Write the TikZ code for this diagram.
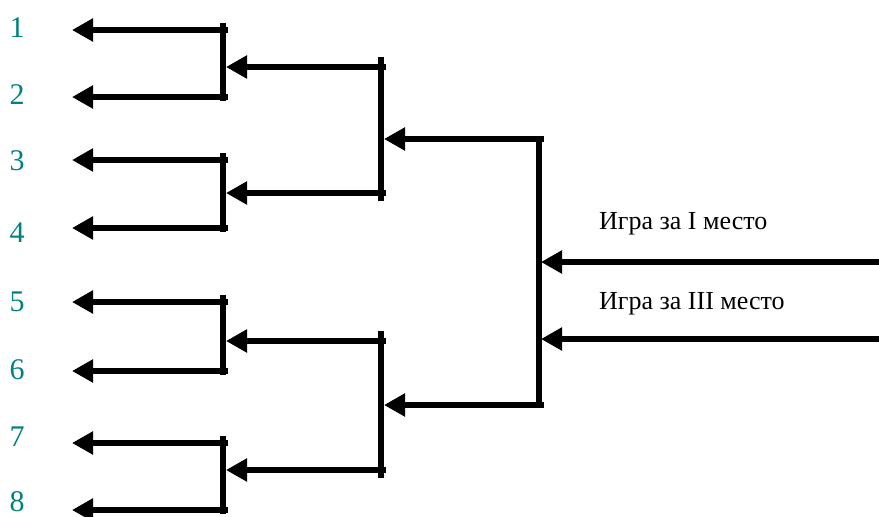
\documentclass[tikz,border=0pt]{standalone}
\usepackage{fontspec}
\setmainfont{Liberation Serif}
\usetikzlibrary{arrows.meta}
\definecolor{numteal}{RGB}{0,128,128}
\begin{document}
\begin{tikzpicture}[x=1pt,y=-1pt,
  wire/.style={line width=6.5pt},
  arr/.style={line width=6.5pt,-{Triangle[length=21pt,width=22pt]}},
  num/.style={text=numteal,font=\fontsize{30}{30}\selectfont,inner sep=0pt},
  lbl/.style={font=\fontsize{26}{26}\selectfont,inner sep=0pt,anchor=west}]
\useasboundingbox (0,0) rectangle (879,517);
% numbers
\foreach \i/\y in {1/28,2/95,3/161,4/233,5/302,6/370,7/437,8/502}{
  \node[num] (n\i) at (17,\y) {\i};
}
% first-level brackets
\foreach \k/\ya/\yb/\ym in {a/30/97/67, b/160/228/193, c/302/371/341, d/443/510/470}{
  \coordinate (\k top) at (228,\ya);
  \coordinate (\k bot) at (228,\yb);
  \coordinate (\k topend) at (72,\ya);
  \coordinate (\k botend) at (72,\yb);
  \coordinate (\k barT) at (223,\ya-7);
  \coordinate (\k barB) at (223,\yb+4);
  \coordinate (\k mid) at (226,\ym);
  \draw[arr] (\k top) -- (\k topend);
  \draw[arr] (\k bot) -- (\k botend);
  \draw[wire] (\k barT) -- (\k barB);
}
% second-level
\foreach \k/\ya/\yb/\ym/\p/\q in {e/67/193/139/a/b, f/341/470/405/c/d}{
  \coordinate (\k top) at (386,\ya);
  \coordinate (\k bot) at (386,\yb);
  \coordinate (\k barT) at (381,\ya-10);
  \coordinate (\k barB) at (381,\yb+8);
  \coordinate (\k mid) at (384,\ym);
  \draw[arr] (\k top) -- (\p mid);
  \draw[arr] (\k bot) -- (\q mid);
  \draw[wire] (\k barT) -- (\k barB);
}
% third-level
\coordinate (gtop) at (544,139);
\coordinate (gbot) at (544,405);
\coordinate (gbarT) at (539,136);
\coordinate (gbarB) at (539,408);
\draw[arr] (gtop) -- (emid);
\draw[arr] (gbot) -- (fmid);
\draw[wire] (gbarT) -- (gbarB);
% finals
\coordinate (r1) at (879,262);
\coordinate (r2) at (879,339);
\coordinate (g1) at (541,262);
\coordinate (g2) at (541,339);
\draw[arr] (r1) -- (g1);
\draw[arr] (r2) -- (g2);
\node[lbl] (t1) at (599,224) {Игра за I место};
\node[lbl] (t2) at (599,304) {Игра за III место};
\end{tikzpicture}
\end{document}
